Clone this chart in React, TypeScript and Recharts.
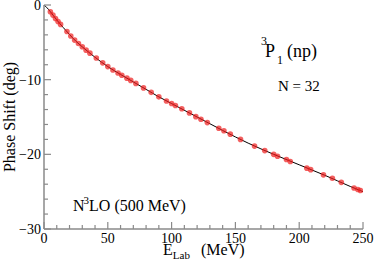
import React from 'react';
import { ComposedChart, Line, Scatter, XAxis, YAxis } from 'recharts';

// 3P1 (np) phase shift vs lab energy, N3LO (500 MeV)

// theory curve (black line)
const curveEnergy = [0, 2, 5, 10, 15, 20, 25, 30, 40, 50, 60, 70, 80, 90, 100, 120, 140, 160, 180, 200, 220, 240, 250];
const curvePhase = [0, -0.3, -0.9, -2.0, -3.0, -3.95, -4.85, -5.6, -7.0, -8.25, -9.3, -10.3, -11.3, -12.3, -13.2, -15.0, -16.8, -18.5, -20.0, -21.4, -22.8, -24.3, -25.0];

// red points
const pointEnergy = [5, 7, 9, 11, 13, 18, 21, 24, 27, 30, 33, 36, 41, 46, 50, 54, 58, 61, 65, 68, 72, 78, 84, 90, 96, 100, 103, 108, 114, 119, 123, 128, 137, 141, 146, 154, 165, 173, 180, 183, 190, 193, 206, 209, 219, 226, 233, 243, 246, 248];
const pointPhase = [-0.9, -1.35, -1.8, -2.2, -2.6, -3.55, -4.15, -4.7, -5.15, -5.6, -6.05, -6.45, -7.1, -7.75, -8.25, -8.7, -9.1, -9.4, -9.8, -10.1, -10.5, -11.1, -11.7, -12.3, -12.85, -13.2, -13.45, -13.9, -14.45, -14.95, -15.3, -15.75, -16.5, -16.85, -17.3, -18.0, -18.9, -19.5, -20.0, -20.25, -20.7, -20.95, -21.85, -22.05, -22.75, -23.2, -23.75, -24.5, -24.7, -24.85];

const xTicks = [0, 10, 20, 30, 40, 50, 60, 70, 80, 90, 100, 110, 120, 130, 140, 150, 160, 170, 180, 190, 200, 210, 220, 230, 240, 250];
const yTicks = [0, -2, -4, -6, -8, -10, -12, -14, -16, -18, -20, -22, -24, -26, -28, -30];

const curveData = curveEnergy.map((e, i) => ({ e, d: curvePhase[i] }));
const pointData = pointEnergy.map((e, i) => ({ e, d: pointPhase[i] }));

const frameColor = '#8a8a8a';
const serif = "'Liberation Serif', 'Times New Roman', Times, serif";
const txt = { fontFamily: serif };

const fmt = (v: number) => (v < 0 ? '\u2212' + Math.abs(v) : String(v));

const BottomTick = (props: any) => {
  const { x, y, payload } = props;
  const v = payload.value;
  const major = v % 50 === 0;
  return (
    <g>
      <line x1={x} y1={y} x2={x} y2={y - (major ? 7 : 4)} stroke={frameColor} strokeWidth={1.2} />
      {major && (
        <text x={x} y={y + 14} textAnchor="middle" fontSize={14} style={txt} fill="#000">
          {v}
        </text>
      )}
    </g>
  );
};

const TopTick = (props: any) => {
  const { x, y, payload } = props;
  const major = payload.value % 50 === 0;
  return <line x1={x} y1={y} x2={x} y2={y + (major ? 7 : 4)} stroke={frameColor} strokeWidth={1.2} />;
};

const LeftTick = (props: any) => {
  const { x, y, payload } = props;
  const v = payload.value;
  const major = v % 10 === 0;
  return (
    <g>
      <line x1={x} y1={y} x2={x + (major ? 7 : 4)} y2={y} stroke={frameColor} strokeWidth={1.2} />
      {major && (
        <text x={x - 3} y={y + 5} textAnchor="end" fontSize={14} style={txt} fill="#000">
          {fmt(v)}
        </text>
      )}
    </g>
  );
};

const RightTick = (props: any) => {
  const { x, y, payload } = props;
  const major = payload.value % 10 === 0;
  return <line x1={x} y1={y} x2={x - (major ? 7 : 4)} y2={y} stroke={frameColor} strokeWidth={1.2} />;
};

const RedDot = (props: any) => {
  const { cx, cy } = props;
  return <circle cx={cx} cy={cy} r={2.8} fill="#ee1c1c" fillOpacity={0.7} />;
};

export default function App() {
  return (
    <div style={{ position: 'absolute', left: 0, top: 0, width: 374, height: 265, background: '#fff' }}>
      <ComposedChart width={374} height={265} margin={{ top: 5, right: 11, bottom: 0, left: 0 }}>
        <XAxis
          xAxisId="bottom"
          type="number"
          dataKey="e"
          domain={[0, 250]}
          ticks={xTicks}
          interval={0}
          allowDataOverflow
          height={36}
          tickSize={0}
          tickMargin={0}
          tickLine={false}
          tick={<BottomTick />}
          axisLine={{ stroke: frameColor, strokeWidth: 1.5 }}
        />
        <XAxis
          xAxisId="top"
          orientation="top"
          type="number"
          dataKey="e"
          domain={[0, 250]}
          ticks={xTicks}
          interval={0}
          allowDataOverflow
          height={0}
          tickSize={0}
          tickMargin={0}
          tickLine={false}
          tick={<TopTick />}
          axisLine={{ stroke: frameColor, strokeWidth: 1.5 }}
        />
        <YAxis
          yAxisId="left"
          type="number"
          dataKey="d"
          domain={[-30, 0]}
          ticks={yTicks}
          interval={0}
          allowDataOverflow
          width={44}
          tickSize={0}
          tickMargin={0}
          tickLine={false}
          tick={<LeftTick />}
          axisLine={{ stroke: frameColor, strokeWidth: 1.5 }}
        />
        <YAxis
          yAxisId="right"
          orientation="right"
          type="number"
          dataKey="d"
          domain={[-30, 0]}
          ticks={yTicks}
          interval={0}
          allowDataOverflow
          width={0}
          tickSize={0}
          tickMargin={0}
          tickLine={false}
          tick={<RightTick />}
          axisLine={{ stroke: frameColor, strokeWidth: 1.5 }}
        />
        <Scatter
          xAxisId="bottom"
          yAxisId="left"
          data={pointData}
          dataKey="d"
          shape={<RedDot />}
          isAnimationActive={false}
        />
        <Line
          xAxisId="bottom"
          yAxisId="left"
          data={curveData}
          dataKey="d"
          type="monotone"
          stroke="#000"
          strokeWidth={1}
          dot={false}
          activeDot={false}
          isAnimationActive={false}
        />
      </ComposedChart>
      <svg
        width={374}
        height={265}
        style={{ position: 'absolute', left: 0, top: 0, pointerEvents: 'none', fontFamily: serif }}
      >
        <text transform="translate(15,117) rotate(-90)" textAnchor="middle" fontSize={16} style={txt} fill="#000">
          Phase Shift (deg)
        </text>
        <text x={163} y={255} fontSize={16} style={txt} fill="#000">
          E
          <tspan fontSize={11} dy={4}>Lab</tspan>
        </text>
        <text x={201} y={255} fontSize={16} style={txt} fill="#000">(MeV)</text>
        <text x={261} y={45} fontSize={12} style={txt} fill="#000">3</text>
        <text x={265} y={57} fontSize={18} style={txt} fill="#000">P</text>
        <text x={277} y={64} fontSize={12} style={txt} fill="#000">1</text>
        <text x={287} y={57} fontSize={18} style={txt} fill="#000">(np)</text>
        <text x={278} y={91} fontSize={15} style={txt} fill="#000">N = 32</text>
        <text x={73} y={211} fontSize={16} style={txt} fill="#000">
          N
          <tspan fontSize={11} dy={-7} dx={-1}>3</tspan>
          <tspan dy={7}>LO (500 MeV)</tspan>
        </text>
      </svg>
    </div>
  );
}
